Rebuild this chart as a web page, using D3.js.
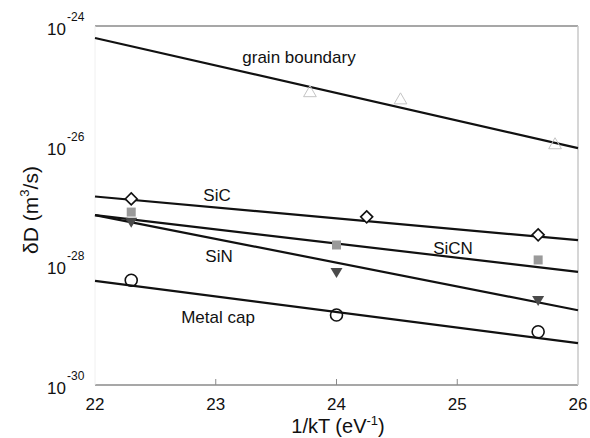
<!DOCTYPE html>
<html><head><meta charset="utf-8">
<script src="https://cdn.jsdelivr.net/npm/d3@7"></script>
<style>body{margin:0;background:#fff}svg{display:block}text{font-family:"Liberation Sans",Arial,sans-serif;fill:#111}</style>
</head><body><svg id="c" width="590" height="438"></svg>
<script>
// Fit lines: log10(δD) at 1/kT = 22 and 26
const fitX = [22, 26];
const lineNames = ["grain boundary", "SiC", "SiCN", "SiN", "Metal cap"];
const fitGB = [-24.2, -26.04];
const fitSiC = [-26.85, -27.58];
const fitSiCN = [-27.16, -28.11];
const fitSiN = [-27.16, -28.75];
const fitMetal = [-28.26, -29.3];
// Data points (1/kT, log10 δD)
const gbX = [23.78, 24.53, 25.81];
const gbY = [-25.12, -25.24, -25.99];
const sicX = [22.3, 24.25, 25.67];
const sicY = [-26.89, -27.19, -27.49];
const sicnX = [22.3, 24.0, 25.67];
const sicnY = [-27.11, -27.66, -27.91];
const sinX = [22.3, 24.0, 25.67];
const sinY = [-27.27, -28.11, -28.58];
const metalX = [22.3, 24.0, 25.67];
const metalY = [-28.25, -28.83, -29.11];
const xTicks = [22, 23, 24, 25, 26];
const yTickExp = [-24, -26, -28, -30];

const svg = d3.select("#c");
const L = 95, R = 578, T = 26, B = 385;
const x = d3.scaleLinear().domain([22, 26]).range([L, R]);
const y = d3.scaleLog().domain([1e-30, 1e-24]).range([B, T]);
const p = v => Math.pow(10, v);

// frame
const axisCol = "#8a8a8a";
svg.append("line").attr("x1", L).attr("x2", R).attr("y1", T).attr("y2", T).attr("stroke", axisCol).attr("stroke-width", 1.5);
svg.append("line").attr("x1", L).attr("x2", R).attr("y1", B).attr("y2", B).attr("stroke", axisCol).attr("stroke-width", 1.5);
svg.append("line").attr("x1", R).attr("x2", R).attr("y1", T).attr("y2", B).attr("stroke", "#c8c8c8").attr("stroke-width", 1.5);
svg.append("line").attr("x1", L).attr("x2", L).attr("y1", T).attr("y2", B).attr("stroke", "#f0f0f0").attr("stroke-width", 1);

// x ticks & labels
const xa = svg.append("g");
xTicks.forEach(t => {
  if (t > 22 && t < 26) xa.append("line").attr("x1", x(t)).attr("x2", x(t)).attr("y1", B).attr("y2", B - 6).attr("stroke", axisCol);
  xa.append("text").attr("x", x(t)).attr("y", B + 25).attr("text-anchor", "middle").attr("font-size", 17).text(t);
});
// y labels
yTickExp.forEach(e => {
  svg.append("text").attr("x", 66).attr("y", y(p(e)) + 9).attr("text-anchor", "end").attr("font-size", 17).text("10");
  svg.append("text").attr("x", 67).attr("y", y(p(e)) - 5).attr("font-size", 12).text(e);
});

// axis titles
const xt = svg.append("text").attr("x", 338).attr("y", 433).attr("text-anchor", "middle").attr("font-size", 20);
xt.append("tspan").text("1/kT (eV");
xt.append("tspan").attr("font-size", 13).attr("dy", -8).text("-1");
xt.append("tspan").attr("dy", 8).text(")");
const yt = svg.append("text").attr("transform", "translate(38,210) rotate(-90)").attr("text-anchor", "middle").attr("font-size", 21);
yt.append("tspan").text("δD (m");
yt.append("tspan").attr("font-size", 13).attr("dy", -9).text("3");
yt.append("tspan").attr("dy", 9).text("/s)");

// fit lines
const fits = [fitGB, fitSiC, fitSiCN, fitSiN, fitMetal];
fits.forEach(f => {
  svg.append("line").attr("x1", x(fitX[0])).attr("y1", y(p(f[0]))).attr("x2", x(fitX[1])).attr("y2", y(p(f[1])))
    .attr("stroke", "#111").attr("stroke-width", 2.2);
});

// markers
const sym = (type, size) => d3.symbol().type(type).size(size)();
gbX.forEach((v, i) => {
  svg.append("path").attr("d", sym(d3.symbolTriangle, 70)).attr("transform", `translate(${x(v)},${y(p(gbY[i]))})`)
    .attr("fill", "none").attr("stroke", "#c4c4c4").attr("stroke-width", 1);
});
sicX.forEach((v, i) => {
  svg.append("path").attr("d", "M0,-6L6,0L0,6L-6,0Z").attr("transform", `translate(${x(v)},${y(p(sicY[i]))})`)
    .attr("fill", "#fff").attr("stroke", "#111").attr("stroke-width", 1.6);
});
sicnX.forEach((v, i) => {
  svg.append("rect").attr("x", x(v) - 4.5).attr("y", y(p(sicnY[i])) - 4.5).attr("width", 9).attr("height", 9).attr("fill", "#9a9a9a");
});
sinX.forEach((v, i) => {
  svg.append("path").attr("d", "M-6,-4L6,-4L0,6Z").attr("transform", `translate(${x(v)},${y(p(sinY[i]))})`).attr("fill", "#4a4a4a");
});
metalX.forEach((v, i) => {
  svg.append("circle").attr("cx", x(v)).attr("cy", y(p(metalY[i]))).attr("r", 6).attr("fill", "none").attr("stroke", "#111").attr("stroke-width", 1.6);
});

// line labels
const labelPos = [[299, 63], [217, 201], [453, 254], [219, 262], [218, 323]];
lineNames.forEach((n, i) => {
  svg.append("text").attr("x", labelPos[i][0]).attr("y", labelPos[i][1]).attr("text-anchor", "middle").attr("font-size", 17).text(n);
});
</script></body></html>
